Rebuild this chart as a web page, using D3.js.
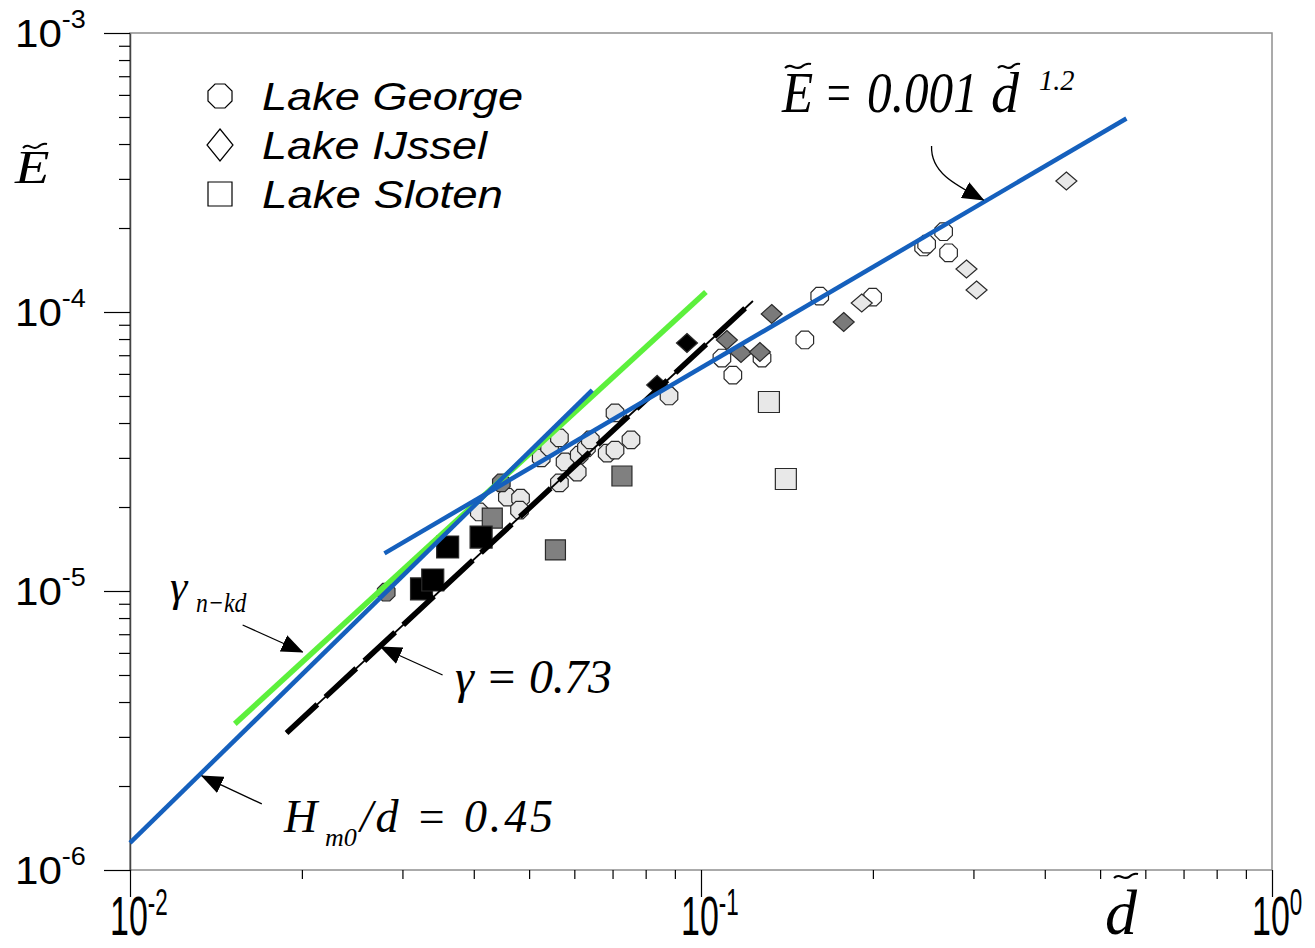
<!DOCTYPE html>
<html>
<head>
<meta charset="utf-8">
<script src="https://cdn.jsdelivr.net/npm/d3@7"></script>
<style>
    body { margin: 0; background: #fff; }
    svg { display: block; }
    .serif { font-family: "Liberation Serif", "Times New Roman", serif; font-style: italic; }
    .sans { font-family: "Liberation Sans", Arial, sans-serif; }
</style>
</head>
<body>
<svg id="chart" width="1315" height="948"></svg>
<script>
/* --------------------------------------------------------------
DATOS  (d~, E~)
-------------------------------------------------------------- */

const georgeGray = [[0.0281, 9.9e-6], [0.0447, 2.44e-5]];
const georgeLight = [
    [0.0409, 1.92e-5], [0.0458, 2.17e-5], [0.0483, 2.15e-5], [0.0481, 1.95e-5],
    [0.0525, 3.0e-5], [0.0543, 3.28e-5], [0.0565, 3.54e-5], [0.0578, 2.9e-5],
    [0.0565, 2.44e-5], [0.0607, 2.67e-5], [0.0612, 3.07e-5], [0.0630, 3.26e-5],
    [0.0640, 3.48e-5], [0.0685, 3.12e-5], [0.0707, 3.2e-5], [0.0707, 4.35e-5],
    [0.0754, 3.48e-5], [0.0879, 5.0e-5]
];
const georgeOpen = [
    [0.1088, 6.84e-5], [0.1137, 5.94e-5], [0.1279, 6.84e-5], [0.152, 7.94e-5],
    [0.1614, 1.14e-4], [0.1998, 1.13e-4], [0.2454, 1.71e-4], [0.2484, 1.75e-4],
    [0.266, 1.94e-4], [0.2714, 1.63e-4]
];

const ijsselBlack = [[0.0838, 5.48e-5], [0.0945, 7.74e-5]];
const ijsselGray = [[0.111, 7.94e-5], [0.1175, 7.13e-5], [0.1268, 7.19e-5], [0.133, 9.84e-5], [0.1778, 9.21e-5]];
const ijsselLight = [[0.1912, 1.077e-4], [0.2917, 1.426e-4], [0.3038, 1.199e-4], [0.4364, 2.947e-4]];

const slotenBlack = [[0.0324, 1.017e-5], [0.0339, 1.095e-5], [0.0360, 1.438e-5], [0.0412, 1.561e-5]];
const slotenGray = [[0.0431, 1.826e-5], [0.0556, 1.403e-5], [0.0727, 2.583e-5]];
const slotenLight = [[0.1315, 4.757e-5], [0.1408, 2.52e-5]];

// rectas de ajuste (extremos)
const fitPower = [[0.0279, 1.364e-5], [0.556, 4.94e-4]];
const fitHm0 = [[0.01, 1.25e-6], [0.0645, 5.25e-5]];
const fitNkd = [[0.01526, 3.34e-6], [0.102, 1.179e-4]];
const fitGamma = [[0.0188, 3.1e-6], [0.1233, 1.095e-4]];

const xDecades = [0.01, 0.1, 1];
const xExponents = ["-2", "-1", "0"];
const yDecades = [1e-6, 1e-5, 1e-4, 1e-3];
const yExponents = ["-6", "-5", "-4", "-3"];

const legendLabels = ["Lake George", "Lake IJssel", "Lake Sloten"];

/* --------------------------------------------------------------
ESCALAS
-------------------------------------------------------------- */

const svg = d3.select("#chart");
const x = d3.scaleLog().domain([0.01, 1]).range([130, 1272]);
const y = d3.scaleLog().domain([1e-6, 1e-3]).range([870, 33]);
const [x0, x1] = x.range();
const [y0, y1] = y.range();

const SHADE = { black: "#000", gray: "#808080", light: "#e8e8e8", open: "#fff" };

/* --------------------------------------------------------------
FORMAS
-------------------------------------------------------------- */

function octagon(r) {
    const pts = d3.range(8).map(i => {
        const a = Math.PI / 8 + i * Math.PI / 4;
        return [r * Math.cos(a), r * Math.sin(a)];
    });
    return "M" + pts.map(p => p.join(",")).join("L") + "Z";
}
function diamond(w, h) { return `M0,${-h}L${w},0L0,${h}L${-w},0Z`; }
function square(s) { return `M${-s / 2},${-s / 2}h${s}v${s}h${-s}Z`; }

function tilde(cx, cy, w, sw) {
    svg.append("path")
        .attr("d", `M${cx - w / 2},${cy + 2} C${cx - w / 4},${cy - 4} ${cx - w / 8},${cy + 5} ${cx + w / 8},${cy + 1} C${cx + w / 4},${cy - 2} ${cx + w / 3},${cy - 3} ${cx + w / 2},${cy - 2}`)
        .attr("fill", "none").attr("stroke", "#000").attr("stroke-width", sw || 2);
}

// texto serif escalado en horizontal
function serifText(str, px, py, size, sx) {
    return svg.append("text").attr("class", "serif")
        .attr("transform", `translate(${px},${py}) scale(${sx || 1},1)`)
        .attr("font-size", size)
        .text(str);
}

/* --------------------------------------------------------------
MARCO Y EJES
-------------------------------------------------------------- */

svg.append("rect").attr("width", 1315).attr("height", 948).attr("fill", "#fff");

svg.append("rect")
    .attr("x", x0).attr("y", y1)
    .attr("width", x1 - x0).attr("height", y0 - y1)
    .attr("fill", "none").attr("stroke", "#8f8f8f").attr("stroke-width", 1.5);

const yMinor = y.ticks().filter(v => !yDecades.some(d => Math.abs(v / d - 1) < 1e-6));
const xMinor = x.ticks().filter(v => !xDecades.some(d => Math.abs(v / d - 1) < 1e-6));

function styleAxis(g) {
    g.selectAll("text").remove();
    g.selectAll(".tick line").attr("stroke", "#000").attr("stroke-width", 1.2);
}

svg.append("g").attr("transform", `translate(${x0},0)`)
    .call(d3.axisLeft(y).tickValues(yMinor).tickSize(11).tickSizeOuter(0).tickFormat(""))
    .call(styleAxis)
    .select(".domain").attr("stroke", "#444").attr("stroke-width", 1.5);
svg.append("g").attr("transform", `translate(${x0},0)`)
    .call(d3.axisLeft(y).tickValues(yDecades).tickSize(26).tickSizeOuter(0).tickFormat(""))
    .call(styleAxis)
    .select(".domain").remove();

svg.append("g").attr("transform", `translate(0,${y0})`)
    .call(d3.axisBottom(x).tickValues(xMinor).tickSize(9).tickSizeOuter(0).tickFormat(""))
    .call(styleAxis)
    .select(".domain").remove();
svg.append("g").attr("transform", `translate(0,${y0})`)
    .call(d3.axisBottom(x).tickValues(xDecades).tickSize(27).tickSizeOuter(0).tickFormat(""))
    .call(styleAxis)
    .select(".domain").remove();

// etiquetas de los ejes
yDecades.forEach((v, i) => {
    const t = svg.append("text").attr("class", "sans")
        .attr("transform", `translate(15,${y(v) + 14}) scale(1.08,1)`)
        .attr("font-size", 39);
    t.append("tspan").text("10");
    t.append("tspan").attr("dy", -19).attr("font-size", 25).text(yExponents[i]);
});

xDecades.forEach((v, i) => {
    const t = svg.append("text").attr("class", "sans")
        .attr("transform", `translate(${x(v) - 20},935) scale(0.68,1.1)`)
        .attr("font-size", 50);
    t.append("tspan").text("10");
    t.append("tspan").attr("dy", -18).attr("font-size", 33).text(xExponents[i]);
});

// títulos
serifText("E", 15, 183, 47, 1.2);
tilde(35, 146, 24, 2);

serifText("d", 1105, 934, 64);
tilde(1126, 876, 24, 2.2);

/* --------------------------------------------------------------
PUNTOS
-------------------------------------------------------------- */

function drawPoints(data, shape, fill) {
    svg.append("g").selectAll("path")
        .data(data)
        .enter()
        .append("path")
        .attr("transform", d => `translate(${x(d[0])},${y(d[1])})`)
        .attr("d", shape)
        .attr("fill", fill)
        .attr("stroke", "#2a2a2a")
        .attr("stroke-width", 1.2);
}

drawPoints(georgeOpen, octagon(9.5), SHADE.open);
drawPoints(georgeLight, octagon(9.5), SHADE.light);
drawPoints(georgeGray, octagon(9.5), SHADE.gray);

drawPoints(ijsselLight, diamond(10.5, 9), SHADE.light);
drawPoints(ijsselGray, diamond(10.5, 9.5), "#7a7a7a");
drawPoints(ijsselBlack, diamond(10.5, 9.5), SHADE.black);

drawPoints(slotenLight, square(21), SHADE.light);
drawPoints(slotenGray, square(20), SHADE.gray);
drawPoints(slotenBlack, square(22), SHADE.black);

/* --------------------------------------------------------------
RECTAS
-------------------------------------------------------------- */

const line = d3.line().x(d => x(d[0])).y(d => y(d[1]));

svg.append("path").attr("d", line(fitGamma))
    .attr("fill", "none").attr("stroke", "#000").attr("stroke-width", 1.8);
svg.append("path").attr("d", line(fitGamma))
    .attr("fill", "none").attr("stroke", "#000").attr("stroke-width", 5.5)
    .attr("stroke-dasharray", "42,11");

svg.append("path").attr("d", line(fitNkd))
    .attr("fill", "none").attr("stroke", "#5cf03c").attr("stroke-width", 5.5);

svg.append("path").attr("d", line(fitHm0))
    .attr("fill", "none").attr("stroke", "#1560bd").attr("stroke-width", 4.5);

svg.append("path").attr("d", line(fitPower))
    .attr("fill", "none").attr("stroke", "#1560bd").attr("stroke-width", 4.5);

/* --------------------------------------------------------------
ANOTACIONES
-------------------------------------------------------------- */

svg.append("defs").append("marker")
    .attr("id", "ah")
    .attr("viewBox", "0 0 22 18")
    .attr("refX", 21).attr("refY", 9)
    .attr("markerWidth", 22).attr("markerHeight", 18)
    .attr("markerUnits", "userSpaceOnUse")
    .attr("orient", "auto")
    .append("path").attr("d", "M0,0L22,9L0,18Z").attr("fill", "#000");

const arrows = [
    { tip: [0.02006, 6.045e-6], from: [-60, -27] },
    { tip: [0.02747, 6.30e-6], from: [62, 28] },
    { tip: [0.01336, 2.173e-6], from: [60, 28] }
];
arrows.forEach(a => {
    const tx = x(a.tip[0]), ty = y(a.tip[1]);
    svg.append("line")
        .attr("x1", tx + a.from[0]).attr("y1", ty + a.from[1])
        .attr("x2", tx).attr("y2", ty)
        .attr("stroke", "#000").attr("stroke-width", 1.3)
        .attr("marker-end", "url(#ah)");
});

// flecha curva hacia E = 0.001 d^1.2
const ptx = x(0.3125), pty = y(2.52e-4);
svg.append("path")
    .attr("d", `M${ptx - 52},${pty - 54} C${ptx - 53},${pty - 28} ${ptx - 30},${pty - 16} ${ptx},${pty}`)
    .attr("fill", "none").attr("stroke", "#000").attr("stroke-width", 1.3)
    .attr("marker-end", "url(#ah)");

// gamma_n-kd
serifText("γ", 170, 601, 44);
serifText("n−kd", 196, 612, 28, 0.85);

// gamma = 0.73
svg.append("text").attr("class", "serif").attr("x", 455).attr("y", 693).attr("font-size", 48)
    .attr("textLength", 157).attr("lengthAdjust", "spacing").text("γ = 0.73");

// H_m0/d = 0.45
serifText("H", 284, 832, 46);
serifText("m0", 325, 846, 26);
svg.append("text").attr("class", "serif").attr("x", 360).attr("y", 832).attr("font-size", 46)
    .attr("textLength", 193).attr("lengthAdjust", "spacing").text("/d = 0.45");

// E = 0.001 d^1.2
serifText("E", 782, 112, 58, 0.88);
tilde(798, 66, 26, 2.2);
serifText("=", 824, 112, 58, 0.74);
serifText("0.001", 867, 112, 58, 0.85);
serifText("d", 991, 112, 56);
tilde(1009, 66, 22, 2.2);
serifText("1.2", 1039, 90, 30, 0.95);

/* --------------------------------------------------------------
LEYENDA
-------------------------------------------------------------- */

const legendShapes = [octagon(13), diamond(13, 16), square(24)];
legendLabels.forEach((label, i) => {
    const cy = 96 + i * 49;
    svg.append("path")
        .attr("transform", `translate(220,${cy})`)
        .attr("d", legendShapes[i])
        .attr("fill", "#fff").attr("stroke", "#000").attr("stroke-width", 1.2);
    svg.append("text").attr("class", "sans")
        .attr("x", 262).attr("y", cy + 14)
        .attr("font-size", 39).attr("font-style", "italic")
        .attr("textLength", [261, 225, 241][i]).attr("lengthAdjust", "spacingAndGlyphs")
        .text(label);
});
</script>
</body>
</html>
